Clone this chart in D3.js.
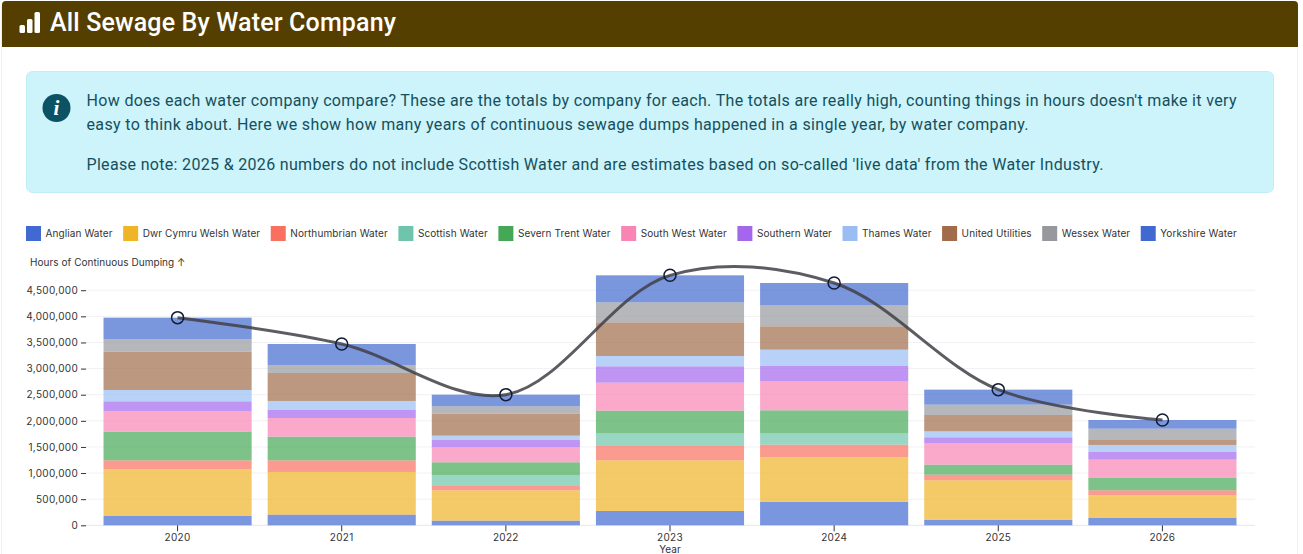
<!DOCTYPE html>
<html>
<head>
<meta charset="utf-8">
<title>All Sewage By Water Company</title>
<script src="https://cdn.jsdelivr.net/npm/d3@7"></script>
<style>
   html, body { margin: 0; padding: 0; background: #fff; overflow: hidden; }
   svg { display: block; }
   text { font-family: Inter, sans-serif; }
   .copy { font-family: Roboto, sans-serif; }
</style>
</head>
<body>
<svg id="chart" width="1303" height="554"></svg>
<script>
"use strict";

const years = ['2020', '2021', '2022', '2023', '2024', '2025', '2026']
const companies = ['Anglian Water', 'Dwr Cymru Welsh Water', 'Northumbrian Water', 'Scottish Water', 'Severn Trent Water', 'South West Water', 'Southern Water', 'Thames Water', 'United Utilities', 'Wessex Water', 'Yorkshire Water']
const colours = ['#4169d1', '#f0b429', '#fa7060', '#6fc5ab', '#45a857', '#fa85b5', '#a566ee', '#9abdf3', '#a06c4c', '#97989e', '#4169cf']

// hours
const anglian = [178000, 204000, 89000, 274000, 447000, 102000, 140000]
const dwr_cymru = [894000, 817000, 581000, 970000, 855000, 759000, 434000]
const northumbrian = [172000, 223000, 96000, 274000, 242000, 109000, 96000]
const scottish = [0, 0, 191000, 243000, 217000, 0, 0]
const severn_trent = [549000, 453000, 249000, 434000, 440000, 191000, 236000]
const south_west = [389000, 357000, 287000, 536000, 555000, 408000, 351000]
const southern = [191000, 153000, 140000, 312000, 300000, 115000, 153000]
const thames = [217000, 173000, 83000, 198000, 306000, 115000, 128000]
const united_utilities = [734000, 536000, 421000, 644000, 447000, 313000, 95000]
const wessex = [236000, 153000, 141000, 383000, 402000, 198000, 217000]
const yorkshire = [415000, 402000, 223000, 517000, 427000, 287000, 166000]

const series = [anglian, dwr_cymru, northumbrian, scottish, severn_trent, south_west, southern, thames, united_utilities, wessex, yorkshire]
const y_ticks = [0, 500000, 1000000, 1500000, 2000000, 2500000, 3000000, 3500000, 4000000, 4500000]

const intro_lines = [
   { text: 'How does each water company compare? These are the totals by company for each. The totals are really high, counting things in hours doesn\'t make it very', y: 106, len: 1150 },
   { text: 'easy to think about. Here we show how many years of continuous sewage dumps happened in a single year, by water company.', y: 130, len: 942 },
   { text: 'Please note: 2025 & 2026 numbers do not include Scottish Water and are estimates based on so-called \'live data\' from the Water Industry.', y: 170, len: 1017 }
]

const svg = d3.select('#chart')

// page furniture
svg.append('rect')
   .attr('x', 1.5).attr('y', 1.5)
   .attr('width', 1296).attr('height', 560)
   .attr('rx', 4)
   .attr('fill', '#fff')
   .attr('stroke', '#f1f1f1')

svg.append('path')
   .attr('d', 'M2,47V5a4,4 0 0 1 4,-4H1294a4,4 0 0 1 4,4V47Z')
   .attr('fill', '#553f00')

const icon = svg.append('g').attr('fill', '#fff')
icon.append('rect').attr('x', 19.5).attr('y', 25).attr('width', 5.5).attr('height', 8).attr('rx', 1.5)
icon.append('rect').attr('x', 27).attr('y', 19).attr('width', 5.5).attr('height', 14).attr('rx', 1.5)
icon.append('rect').attr('x', 34.5).attr('y', 12).attr('width', 5.5).attr('height', 21).attr('rx', 1.5)

svg.append('text')
   .attr('class', 'copy')
   .attr('x', 50).attr('y', 31)
   .attr('font-size', 25)
   .attr('font-weight', 500)
   .attr('fill', '#fff')
   .attr('textLength', 346)
   .text('All Sewage By Water Company')

svg.append('rect')
   .attr('x', 26.5).attr('y', 71.5)
   .attr('width', 1247).attr('height', 121)
   .attr('rx', 6)
   .attr('fill', '#cdf3fb')
   .attr('stroke', '#bfeef7')

svg.append('circle')
   .attr('cx', 56.5).attr('cy', 108).attr('r', 14)
   .attr('fill', '#0c5265')

svg.append('text')
   .attr('x', 56.5).attr('y', 115)
   .attr('text-anchor', 'middle')
   .attr('font-size', 21)
   .attr('font-style', 'italic')
   .attr('font-weight', 700)
   .attr('fill', '#fff')
   .style('font-family', '"Liberation Serif", serif')
   .text('i')

svg.append('g')
   .selectAll('text')
   .data(intro_lines)
   .enter().append('text')
      .attr('class', 'copy')
      .attr('x', 86.5)
      .attr('y', d => d.y)
      .attr('font-size', 16)
      .attr('fill', '#14505c')
      .attr('textLength', d => d.len)
      .text(d => d.text)

// legend, laid out from the measured label widths
const legend = svg.append('g').attr('transform', 'translate(26, 226)')
let legend_x = 0
companies.forEach((name, i) => {
   const item = legend.append('g').attr('transform', `translate(${legend_x}, 0)`)
   item.append('rect')
      .attr('width', 15)
      .attr('height', 15)
      .attr('fill', colours[i])
   const label = item.append('text')
      .attr('x', 19.5)
      .attr('y', 11)
      .attr('font-size', 10)
      .attr('letter-spacing', 0.1)
      .attr('fill', '#333')
      .text(name)
   legend_x += 19.5 + label.node().getComputedTextLength() + 10.5
})

// chart
const x = d3.scaleBand()
   .domain(years)
   .range([85.5, 1254.5])
   .paddingInner(16 / 164)
   .paddingOuter(18 / 164)

const y = d3.scaleLinear()
   .domain([0, 5000000])
   .range([525.3, 264.1])

const colour = d3.scaleOrdinal()
   .domain(companies)
   .range(colours)

const rows = years.map((year, i) => {
   const row = { year }
   companies.forEach((name, j) => { row[name] = series[j][i] })
   return row
})

const stacked = d3.stack().keys(companies)(rows)
const totals = years.map((year, i) => ({ year, total: d3.sum(series, s => s[i]) }))

// grid
svg.append('g')
   .selectAll('line')
   .data(y_ticks)
   .enter().append('line')
      .attr('x1', 86)
      .attr('x2', 1255)
      .attr('y1', d => y(d))
      .attr('y2', d => y(d))
      .attr('stroke', d => d === 0 ? '#e6e6ea' : '#f1f1f3')

// bars
svg.append('g')
   .selectAll('g')
   .data(stacked)
   .enter().append('g')
      .attr('fill', d => colour(d.key))
      .attr('fill-opacity', 0.7)
      .selectAll('rect')
      .data(d => d)
      .enter().append('rect')
         .attr('x', d => x(d.data.year))
         .attr('y', d => y(d[1]))
         .attr('width', x.bandwidth())
         .attr('height', d => y(d[0]) - y(d[1]))

// axes
const y_axis = svg.append('g')
   .attr('transform', 'translate(86, 0)')
   .call(d3.axisLeft(y).tickValues(y_ticks).tickFormat(d3.format(',')).tickSize(5).tickPadding(3))
y_axis.select('.domain').remove()
y_axis.selectAll('line').attr('stroke', '#333')
y_axis.selectAll('text').attr('font-size', 10).attr('letter-spacing', 0.3).attr('fill', '#333').style('font-family', 'Inter, sans-serif')

const x_axis = svg.append('g')
   .attr('transform', 'translate(0, 525.3)')
   .call(d3.axisBottom(x).tickSize(6).tickPadding(3))
x_axis.select('.domain').remove()
x_axis.selectAll('line').attr('stroke', '#333')
x_axis.selectAll('text').attr('font-size', 10).attr('letter-spacing', 0.3).attr('fill', '#333').style('font-family', 'Inter, sans-serif')

svg.append('text')
   .attr('x', 30).attr('y', 266)
   .attr('font-size', 10)
   .attr('letter-spacing', 0.05)
   .attr('fill', '#333')
   .text('Hours of Continuous Dumping ↑')

svg.append('text')
   .attr('x', 670).attr('y', 553)
   .attr('text-anchor', 'middle')
   .attr('font-size', 10)
   .attr('fill', '#333')
   .text('Year')

// totals line
const line = d3.line()
   .x(d => x(d.year) + x.bandwidth() / 2)
   .y(d => y(d.total))
   .curve(d3.curveCatmullRom)

svg.append('path')
   .datum(totals)
   .attr('d', line)
   .attr('fill', 'none')
   .attr('stroke', '#3f3f46')
   .attr('stroke-opacity', 0.85)
   .attr('stroke-width', 3)

svg.append('g')
   .selectAll('circle')
   .data(totals)
   .enter().append('circle')
      .attr('cx', d => x(d.year) + x.bandwidth() / 2)
      .attr('cy', d => y(d.total))
      .attr('r', 6)
      .attr('fill', 'none')
      .attr('stroke', '#111b33')
      .attr('stroke-width', 1.5)
</script>
</body>
</html>
